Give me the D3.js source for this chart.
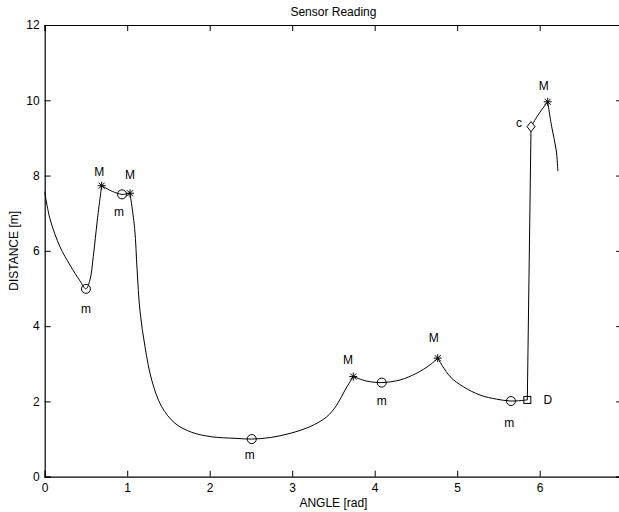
<!doctype html>
<html lang="en">
<head>
  <meta charset="UTF-8">
  <title>Sensor Reading</title>
  <style>
    * { padding: 0; margin: 0; }
    body { background: #fff; }
    svg { display: block; font-family: "Liberation Sans", Arial, sans-serif; }
    .axis path, .axis line { stroke: #000; }
    .axis text { font-size: 12px; fill: #000; font-family: "Liberation Sans", Arial, sans-serif; }
  </style>
  <script src="https://cdn.jsdelivr.net/npm/d3@7"></script>
</head>
<body>
  <svg width="619" height="512"></svg>
  <script>
    // scan profile
    var angle = [0, 0.064, 0.185, 0.307, 0.428, 0.50, 0.549, 0.589, 0.638, 0.69,
      0.82, 0.937, 1.034, 1.09, 1.12, 1.155, 1.216, 1.297, 1.418, 1.579,
      1.782, 2.024, 2.307, 2.51, 2.734, 2.973, 3.216, 3.418, 3.539, 3.64,
      3.74, 3.903, 4.085, 4.307, 4.509, 4.67, 4.764, 4.913, 5.074, 5.276,
      5.479, 5.652, 5.85, 5.895, 5.98, 6.097, 6.145, 6.2, 6.22];
    var distance = [7.57, 6.85, 6.11, 5.62, 5.20, 4.99, 5.23, 5.85, 6.82, 7.73,
      7.58, 7.50, 7.53, 6.6, 5.5, 4.4, 3.45, 2.57, 1.86, 1.42,
      1.18, 1.06, 1.02, 1.00, 1.04, 1.15, 1.33, 1.59, 1.90, 2.30,
      2.66, 2.54, 2.50, 2.57, 2.75, 2.97, 3.15, 2.66, 2.39, 2.17,
      2.06, 2.01, 2.04, 9.30, 9.61, 9.96, 9.30, 8.68, 8.12];

    // feature points
    var minAngle = [0.50, 0.937, 2.51, 4.085, 5.652];
    var minDist = [4.99, 7.50, 1.00, 2.50, 2.01];
    var maxAngle = [0.69, 1.034, 3.74, 4.764, 6.097];
    var maxDist = [7.73, 7.53, 2.66, 3.15, 9.96];
    var cornerAngle = [5.895], cornerDist = [9.30];
    var jumpAngle = [5.85], jumpDist = [2.04];

    // annotation text and where it sits (data units)
    var labelText = ["m", "m", "m", "m", "m", "M", "M", "M", "M", "M", "c", "D"];
    var labelAngle = [0.50, 0.90, 2.485, 4.085, 5.63, 0.662, 1.034, 3.676, 4.715, 6.05, 5.75, 6.10];
    var labelDist = [4.45, 7.04, 0.58, 2.02, 1.43, 8.10, 8.03, 3.10, 3.70, 10.38, 9.40, 2.04];

    var xTicks = [0, 1, 2, 3, 4, 5, 6];
    var yTicks = [0, 2, 4, 6, 8, 10, 12];

    var plotL = 44.7, plotR = 622.2, plotT = 25, plotB = 476.7;

    var x = d3.scaleLinear().domain([0, 7]).range([plotL, plotR]);
    var y = d3.scaleLinear().domain([0, 12]).range([plotB, plotT]);

    var svg = d3.select("svg");

    // axes, MATLAB style box with inward ticks
    svg.append("g").attr("class", "axis")
      .attr("transform", "translate(0," + plotB + ")")
      .call(d3.axisBottom(x).tickValues(xTicks).tickSize(-6).tickPadding(7).tickFormat(d3.format("d")));
    svg.append("g").attr("class", "axis")
      .attr("transform", "translate(0," + plotT + ")")
      .call(d3.axisTop(x).tickValues(xTicks).tickSize(-6).tickFormat(""));
    svg.append("g").attr("class", "axis")
      .attr("transform", "translate(" + plotL + ",0)")
      .call(d3.axisLeft(y).tickValues(yTicks).tickSize(-6).tickPadding(5).tickFormat(d3.format("d")));
    svg.append("g").attr("class", "axis")
      .attr("transform", "translate(" + plotR + ",0)")
      .call(d3.axisRight(y).tickValues(yTicks).tickSize(-6).tickFormat(""));
    svg.selectAll(".axis path").attr("stroke-width", 1.2);

    // profile: smooth between corners (peaks, jump), sharp at them
    var corners = maxAngle.concat(jumpAngle, cornerAngle);
    var pieces = [], cur = [];
    angle.forEach(function (a, i) {
      cur.push(i);
      if (corners.indexOf(a) >= 0 && cur.length > 1) {
        pieces.push(cur);
        cur = [i];
      }
    });
    if (cur.length > 1) pieces.push(cur);

    var line = d3.line()
      .x(function (i) { return x(angle[i]); })
      .y(function (i) { return y(distance[i]); })
      .curve(d3.curveCatmullRom.alpha(0.5));

    svg.selectAll(".profile").data(pieces).enter().append("path")
      .attr("class", "profile")
      .attr("d", line)
      .attr("fill", "none")
      .attr("stroke", "#000")
      .attr("stroke-width", 1);

    // minima: circles
    svg.selectAll(".mn").data(minAngle).enter().append("circle")
      .attr("class", "mn")
      .attr("cx", function (d) { return x(d); })
      .attr("cy", function (d, i) { return y(minDist[i]); })
      .attr("r", 4.5)
      .attr("fill", "none").attr("stroke", "#000");

    // maxima: asterisks
    var star = "M-4,0H4M0,-4V4M-3,-3L3,3M-3,3L3,-3";
    svg.selectAll(".mx").data(maxAngle).enter().append("path")
      .attr("class", "mx")
      .attr("transform", function (d, i) { return "translate(" + x(d) + "," + y(maxDist[i]) + ")"; })
      .attr("d", star)
      .attr("fill", "none").attr("stroke", "#000");

    // corner: diamond
    svg.selectAll(".cr").data(cornerAngle).enter().append("path")
      .attr("class", "cr")
      .attr("transform", function (d, i) { return "translate(" + x(d) + "," + y(cornerDist[i]) + ")"; })
      .attr("d", "M0,-5L4,0L0,5L-4,0Z")
      .attr("fill", "#fff").attr("stroke", "#000");

    // discontinuity: square
    svg.selectAll(".jp").data(jumpAngle).enter().append("rect")
      .attr("class", "jp")
      .attr("x", function (d) { return x(d) - 3.5; })
      .attr("y", function (d, i) { return y(jumpDist[i]) - 3.5; })
      .attr("width", 7).attr("height", 7)
      .attr("fill", "none").attr("stroke", "#000");

    // annotations
    svg.selectAll(".lbl").data(labelText).enter().append("text")
      .attr("class", "lbl")
      .attr("x", function (d, i) { return x(labelAngle[i]); })
      .attr("y", function (d, i) { return y(labelDist[i]); })
      .attr("dy", "0.35em")
      .attr("text-anchor", "middle")
      .style("font-size", "12px")
      .text(function (d) { return d; });

    // titles
    svg.append("text")
      .attr("x", (plotL + plotR) / 2).attr("y", 16)
      .attr("text-anchor", "middle").style("font-size", "12px")
      .text("Sensor Reading");
    svg.append("text")
      .attr("x", (plotL + plotR) / 2).attr("y", 507)
      .attr("text-anchor", "middle").style("font-size", "12px")
      .text("ANGLE [rad]");
    svg.append("text")
      .attr("transform", "translate(18," + (plotT + plotB) / 2 + ") rotate(-90)")
      .attr("text-anchor", "middle").style("font-size", "12px")
      .text("DISTANCE [m]");
  </script>
</body>
</html>
